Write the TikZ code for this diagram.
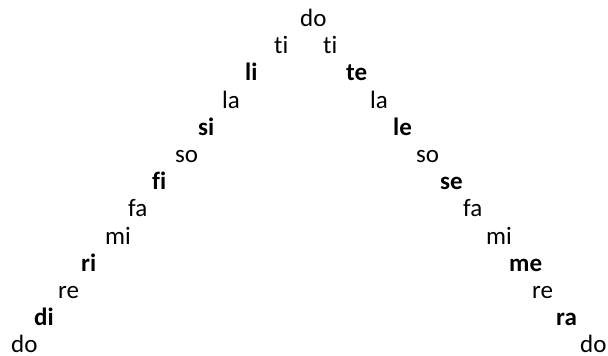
\documentclass[tikz,border=0pt]{standalone}
\usepackage{fontspec}
\setmainfont{Carlito}[Ligatures={NoCommon}]

\begin{document}
\begin{tikzpicture}[x=1pt,y=-1pt]
\tikzset{
  syll/.style={anchor=base west,inner sep=0pt,text depth=0pt,font=\fontsize{25}{30}\selectfont},
  sylb/.style={syll,font=\fontsize{25}{30}\selectfont\bfseries}
}
\useasboundingbox (0,0) rectangle (608,356);
% top
\node[syll] (n_do0) at (300,26.5) {do};
% left side, going down
\node[syll] (n_tiL) at (274,53.7) {ti};
\node[sylb] (n_li) at (245,80.9) {li};
\node[syll] (n_laL) at (222,108.1) {la};
\node[sylb] (n_si) at (198,135.3) {si};
\node[syll] (n_soL) at (175,162.5) {so};
\node[sylb] (n_fi) at (152,189.7) {fi};
\node[syll] (n_faL) at (128,216.9) {fa};
\node[syll] (n_miL) at (105,244.1) {mi};
\node[sylb] (n_ri) at (81,271.3) {ri};
\node[syll] (n_reL) at (58,298.5) {re};
\node[sylb] (n_di) at (34,325.7) {di};
\node[syll] (n_doL) at (11,352.9) {do};
% right side, going down
\node[syll] (n_tiR) at (323,53.7) {ti};
\node[sylb] (n_te) at (346,80.9) {te};
\node[syll] (n_laR) at (370,108.1) {la};
\node[sylb] (n_le) at (393,135.3) {le};
\node[syll] (n_soR) at (416,162.5) {so};
\node[sylb] (n_se) at (440,189.7) {se};
\node[syll] (n_faR) at (463,216.9) {fa};
\node[syll] (n_miR) at (486,244.1) {mi};
\node[sylb] (n_me) at (509,271.3) {me};
\node[syll] (n_reR) at (532,298.5) {re};
\node[sylb] (n_ra) at (556,325.7) {ra};
\node[syll] (n_doR) at (580,352.9) {do};
\end{tikzpicture}
\end{document}
